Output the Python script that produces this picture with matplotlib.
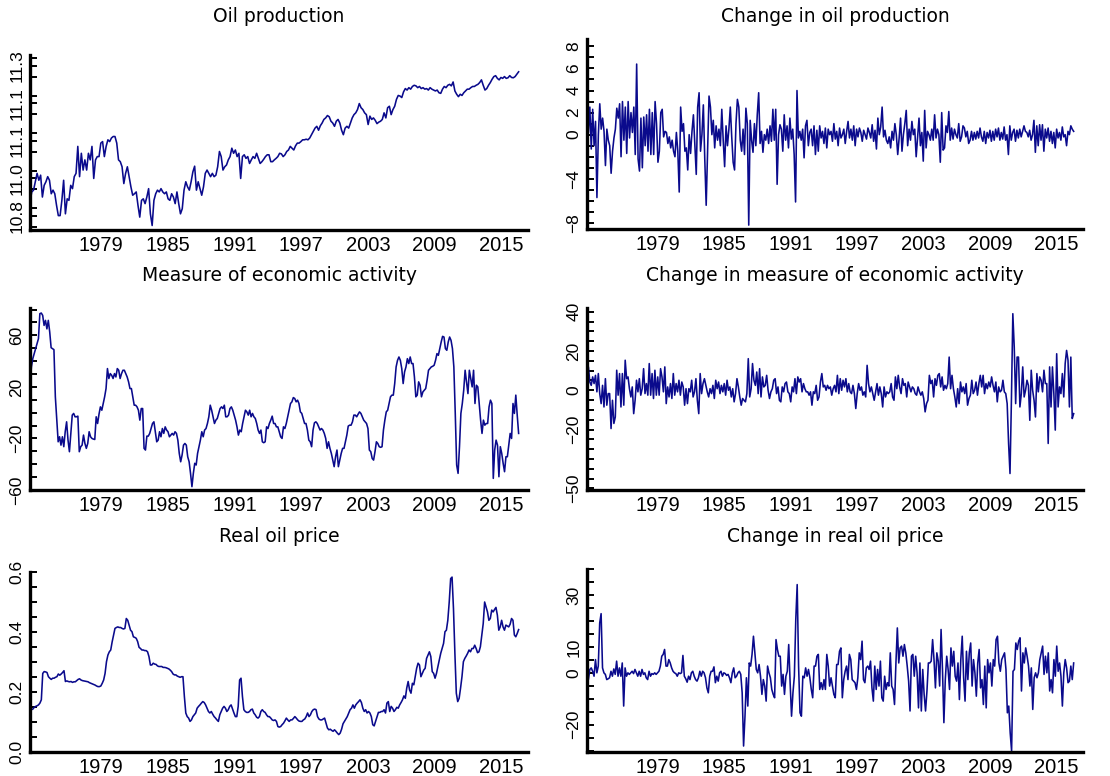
import matplotlib
matplotlib.use('Agg')
import matplotlib.pyplot as plt
import numpy as np

oil_prod = [
    10.845, 10.879, 10.885, 10.913, 10.941, 10.918, 10.935, 10.862, 10.901, 10.913, 10.930, 10.918,
    10.873, 10.885, 10.873, 10.834, 10.800, 10.800, 10.851, 10.918, 10.806, 10.856, 10.851, 10.901,
    10.890, 10.930, 10.941, 11.031, 10.930, 11.008, 10.952, 10.986, 10.952, 11.008, 10.986, 11.031,
    10.924, 10.986, 10.997, 10.997, 11.042, 11.047, 10.997, 11.031, 11.053, 11.047, 11.059, 11.064,
    11.064, 11.042, 10.986, 10.980, 10.963, 10.907, 10.941, 10.963, 10.930, 10.896, 10.868, 10.873,
    10.879, 10.834, 10.795, 10.851, 10.856, 10.840, 10.862, 10.890, 10.806, 10.767, 10.851, 10.873,
    10.885, 10.879, 10.890, 10.879, 10.873, 10.879, 10.856, 10.851, 10.873, 10.862, 10.840, 10.879,
    10.840, 10.806, 10.823, 10.885, 10.913, 10.896, 10.885, 10.913, 10.946, 10.965, 10.885, 10.913,
    10.890, 10.868, 10.896, 10.941, 10.952, 10.941, 10.930, 10.941, 10.930, 10.935, 10.963, 11.014,
    10.997, 10.952, 10.963, 10.969, 10.986, 10.997, 11.025, 11.008, 11.019, 10.997, 11.008, 10.924,
    10.997, 11.003, 10.991, 10.997, 10.974, 10.986, 10.997, 10.991, 11.008, 10.991, 10.974, 10.980,
    10.988, 10.997, 11.003, 11.003, 10.980, 10.980, 10.986, 10.991, 10.997, 11.008, 11.006, 10.997,
    11.003, 11.014, 11.019, 11.031, 11.025, 11.019, 11.033, 11.042, 11.042, 11.047, 11.053, 11.053,
    11.055, 11.053, 11.059, 11.070, 11.081, 11.092, 11.098, 11.085, 11.100, 11.109, 11.121, 11.126,
    11.134, 11.130, 11.115, 11.109, 11.098, 11.115, 11.121, 11.109, 11.085, 11.070, 11.092, 11.098,
    11.092, 11.109, 11.126, 11.137, 11.143, 11.154, 11.174, 11.160, 11.154, 11.143, 11.137, 11.104,
    11.132, 11.121, 11.126, 11.118, 11.107, 11.112, 11.115, 11.121, 11.143, 11.126, 11.160, 11.165,
    11.137, 11.154, 11.165, 11.188, 11.201, 11.199, 11.194, 11.213, 11.224, 11.219, 11.227, 11.222,
    11.231, 11.235, 11.233, 11.227, 11.231, 11.224, 11.227, 11.222, 11.224, 11.219, 11.227, 11.222,
    11.219, 11.216, 11.219, 11.210, 11.208, 11.222, 11.231, 11.227, 11.235, 11.238, 11.233, 11.246,
    11.216, 11.205, 11.197, 11.205, 11.201, 11.210, 11.216, 11.222, 11.222, 11.227, 11.231, 11.231,
    11.235, 11.238, 11.244, 11.253, 11.235, 11.219, 11.224, 11.235, 11.244, 11.255, 11.264, 11.267,
    11.258, 11.253, 11.261, 11.258, 11.264, 11.258, 11.260, 11.267, 11.261, 11.260, 11.264, 11.272,
    11.280]

d_oil_prod = [
    2.8, 0.2, 2.5, -1.3, 2.3, -1.0, 1.2, -5.7, 0.0, 2.8, 0.5, 1.5, 0.3, -2.8, 0.5, -0.5, -1.0, -3.5,
    -1.5, -0.3, 0.5, 2.4, 1.5, 2.8, -2.0, 3.0, -0.5, 2.5, -1.7, 3.0, -0.3, 2.0, 0.2, 2.5, -1.8, 6.4,
    -2.2, -3.3, 1.5, -3.0, 1.6, -1.0, 1.8, -1.5, 2.3, -1.8, 2.0, -1.8, 3.0, 1.0, -2.5, -1.5, 2.0, 2.3,
    -0.2, 0.3, 0.2, -0.8, -0.2, -1.2, -0.5, -1.5, -2.0, 0.2, -1.5, -5.2, 2.5, 0.3, 1.0, -1.5, -1.2, -3.2,
    0.0, -1.7, 0.3, 1.8, -1.0, -3.6, 2.5, 3.8, -1.5, 0.0, 2.7, -2.2, -6.4, -1.5, 3.5, 2.5, 0.0, 1.3,
    -1.2, 0.8, -0.5, 0.5, -1.0, 2.3, -0.5, -2.9, 0.8, -1.0, 0.5, 2.5, -0.2, -2.5, -3.2, 1.0, 3.2, 2.5,
    -0.5, -1.5, 0.5, -1.8, 2.4, 1.0, -8.2, 1.3, -0.5, -1.6, 1.0, -1.0, 1.8, 3.8, -0.8, 0.3, -1.6, 0.0,
    -0.5, 0.5, -0.8, 0.8, -0.6, 2.3, -0.5, 2.3, -4.5, 0.0, 0.9, 0.5, -1.5, 1.8, -0.5, 0.8, -1.2, 1.5,
    -0.4, 0.5, -1.8, -6.1, 4.0, -0.3, 0.3, -0.5, 0.5, -2.1, 0.8, 1.3, -1.0, 0.2, 0.5, -1.0, 0.8, -1.8,
    0.4, -1.5, 0.8, -0.3, 0.3, -0.8, 0.6, -1.2, 0.5, 0.0, 0.3, -0.6, 1.0, -0.4, 0.3, -1.0, 0.6, -0.3,
    0.0, 0.5, -0.8, 0.3, 1.2, -0.3, 0.5, -0.5, 0.8, -1.0, 0.5, -0.2, 0.6, 0.2, -0.6, 0.4, 0.0, -0.4,
    0.6, 0.2, -0.3, 0.9, -0.6, 0.4, -1.3, 1.5, 0.0, 0.7, 2.5, -0.2, 0.4, -0.5, -0.8, -0.2, -1.2, 0.3,
    -0.5, 1.0, 0.0, -1.8, -0.3, 1.5, -1.5, 0.0, 1.0, 2.2, -1.0, 0.5, -0.5, 1.2, 0.0, 0.5, -2.0, -0.3,
    1.5, -1.0, 0.2, -2.4, 2.2, -1.2, 0.3, 0.0, -0.5, 0.5, -0.5, 1.8, -0.3, 0.5, 0.0, -2.5, 2.0, -1.4,
    -1.2, 0.8, 0.2, 2.1, -0.5, 0.6, -0.4, 0.5, 0.0, -0.3, 1.0, -0.6, -0.2, 0.8, 0.6, -0.2, 0.3, -0.8,
    -0.5, 0.3, -0.5, 0.2, -0.4, 0.3, -0.3, 0.6, -0.2, -0.6, 0.3, -0.8, 0.2, -0.3, 0.4, -0.6, 0.3, -0.5,
    0.5, -0.2, 0.6, -0.5, 0.2, -0.4, 0.7, -0.5, 0.0, -1.8, 0.8, -0.5, 0.2, 0.5, -0.6, 0.4, -0.3, 0.5,
    -0.2, 0.3, 0.8, 0.3, 0.2, -0.2, 0.4, -0.5, 0.0, 1.3, -1.6, 0.8, -1.0, 0.9, -0.5, 0.9, -1.5, 0.5,
    -0.3, 0.6, -0.6, 0.3, -0.8, 0.2, -1.2, 0.5, -0.3, 0.2, -0.5, 0.7, -0.2, 0.0, -1.0, 0.3, 0.0, 0.8,
    0.5, 0.3]

econ_act = [
    21.3, 35.5, 42, 45.8, 49.7, 53.5, 57.4, 76.8, 77.3, 75.5, 67.7, 71.6, 65, 71.6, 62.6, 50.4, 49.7,
    48.9, 12.3, -5.8, -22.6, -18.7, -25.2, -18.7, -26.4, -14.8, -7.1, -21.3, -30.3, -16.1, -1.9, -0.6,
    -3.2, -3.2, -2.7, -30.3, -26.4, -25.2, -17.4, -23.9, -27.7, -23.9, -14.8, -18.7, -20, -20.5, -20.8,
    -3.2, -8.4, -1.2, 4.5, 1.9, 7.1, 12.3, 18.7, 34.2, 26.5, 30.3, 29, 26.5, 30.3, 27.7, 34.2, 32.9,
    26.5, 30.3, 32.9, 32.9, 30.3, 27.7, 23.9, 18.7, 18.7, 12.3, 5.8, 5.8, 4.5, 1.9, -5.8, 3.2, 3.2,
    -27.7, -29, -18.2, -18.2, -16.1, -12.3, -8.4, -7.1, -14.8, -22.6, -21.3, -14.8, -18.7, -12.3,
    -16.1, -11, -13.5, -14.8, -18.7, -17.4, -16.1, -17.4, -14.8, -16.1, -21.3, -31.6, -38.1, -32.9,
    -25.2, -23.9, -25.2, -34.2, -38.1, -47.1, -57.4, -47.1, -39.3, -40.6, -31.6, -26.4, -21.3, -14.8,
    -18.7, -13.5, -12.3, -8.4, -3.2, 5.8, 1.9, -3.2, -8.4, -5.8, -4.5, -0.6, 3.2, 4.5, 3.2, 5.8, -3.2,
    -3.2, -1.9, 3.2, 4.5, 1.9, -1.9, -5.8, -11, -17.4, -13.5, -14.8, -8.4, -3.2, 1.9, 0.6, -1.9, 1.9,
    -3.2, -0.6, -3.2, -4.5, -8.4, -13.5, -16.1, -13.5, -22.6, -23.3, -22.6, -11, -12.3, -8.4, -5.8,
    -2.7, -8.4, -8.4, -11, -11, -14.8, -18.7, -20, -11, -12.3, -8.4, -3.2, 1.9, 7.1, 8.4, 11.7, 11,
    8.4, 9.7, 7.1, 0.6, -0.6, -4.5, -8.4, -8.4, -13.5, -21.3, -22.6, -26.4, -13.5, -7.9, -7.1, -8.4,
    -11, -13.5, -12.3, -13.5, -16.1, -20, -27.7, -22.6, -27.7, -31.6, -36.8, -41.9, -34.2, -29, -41.9,
    -36.8, -31.6, -27.7, -27.7, -22.6, -17.4, -10.4, -9.7, -9.7, -7.1, -1.9, -1.9, -3.2, -1.2, 0.6,
    -0.6, -3.2, -5.8, -7.1, -8.4, -12.3, -29, -30.3, -35.5, -36.8, -30.3, -22.6, -23.9, -26.4, -26.9,
    -26.4, -13.5, -5.8, 0.6, 1.9, 7.1, 12.3, 13.6, 13.6, 22.6, 35.5, 40.6, 43.2, 40.6, 34.2, 22.6,
    31.6, 35.5, 41.9, 38.1, 43.2, 38.1, 38.1, 27.7, 12.3, 13.6, 23.9, 21.3, 12.3, 16.1, 17.4, 18.7,
    25.2, 32.9, 34.2, 35.5, 36, 36.8, 40.6, 45.8, 44.5, 49.7, 54.8, 59.2, 58.7, 49.7, 48.4, 54.8,
    58.7, 56.1, 49.7, 35.5, -0.6, -40.6, -47.1, -26.4, -0.6, 7.1, 17.4, 32.9, 23.9, 14.8, 32.9, 26.5,
    20, 32.9, 7.1, 21.3, 20, 7.1, -5.8, -16.1, -5.8, -9.7, -8.4, -8.4, 4.5, 9.7, 7.1, -51, -29, -21.3,
    -25.2, -49.7, -26.4, -31.6, -39.3, -45.8, -34.2, -34.2, -25.2, -16.1, -20, 7.1, -0.6, 13.6, -1.9,
    -16.1]

d_econ_act = [
    5.9, 11.9, 4.2, 2.5, 6.8, 3.4, 7.6, -0.8, 8.5, -1.7, -6.8, 2.5, -8.5, 5.9, -7.6, -1.7, -1.7, -19.5,
    -5.1, -16.9, -13.6, 10.2, -2.5, 8.5, -8.5, 8.5, -7.6, 15.3, 5.9, 6.8, 0.8, -3.4, 1.7, -11.9, -5.1,
    5.1, -0.8, 5.9, -2.5, 0.8, 11, -1.7, 3.4, -2.5, 13.6, -2.5, 8.5, -4.2, 10.2, -2.5, 6.8, -2.5, 11,
    6.8, -0.8, 11.9, -6.8, 1.7, -3.4, 3.4, -4.2, 8.5, -2.5, 3.4, -0.8, 5.1, -2.5, 4.2, 1.7, -7.6, 0.8,
    -6.8, 0.8, -0.8, 5.1, -3.4, -0.8, 5.9, -5.1, -11.9, 8.5, -1.7, 3.4, 5.9, 2.5, -0.8, -3.4, 0.8,
    -1.7, 2.5, -4.2, 5.1, 0.8, 4.2, -1.7, 2.5, -0.8, 3.4, -2.5, 5.1, 0, 1.7, -3.4, 0.8, -5.9, -1.7,
    5.9, 1.7, -3.4, -7.6, -4.2, -5.1, -5.9, -1.7, 16.1, -3.4, 0.8, 13.6, 5.1, 2.5, 9.3, -1.7, 11, -3.4,
    6.8, 1.7, 2.5, 7.6, 0, -4.2, -0.8, 0.8, 5.1, 5.9, -1.7, 1.7, -5.1, -5.9, 1.7, -0.8, 3.4, 4.2, -0.8,
    -1.7, -5.9, 1.7, -0.8, 5.9, -1.7, 6.8, 4.2, 5.9, -0.8, 3.4, 0.8, -0.8, -0.8, -2.5, -0.8, -7.6,
    -0.8, -1.7, 2.5, -5.1, -3.4, 4.2, 8.5, 1.7, 2.5, 0, 2.5, 0.8, 1.7, -2.5, 0.8, 2.5, -0.8, 7.6, -1.7,
    5.9, 0, 5.1, 1.7, 5.9, -0.8, 3.4, -0.8, -1.7, 2.5, -1.7, -9.3, -1.7, 3.4, 0, 1.7, -2.5, -0.8, -3.4,
    12.7, 3.4, -0.8, 1.7, -1.7, -5.1, -0.8, 3.4, -2.5, 1.7, -1.7, -8.5, 1.7, -3.4, -0.8, -1.7, -0.8,
    3.4, -3.4, -5.1, 6.8, 0.8, 7.6, 1.7, -1.7, 5.9, 2.5, 3.4, -3.4, 4.2, 1.7, -0.8, 1.7, 0.8, -1.7,
    -2.5, 1.7, -0.8, -2.5, -0.8, -4.2, -11, -6.8, -5.1, 7.6, 3.4, 5.1, -3.4, 5.9, 2.5, 7.6, 8.5, 1.7,
    6.8, 0, 2.5, 0.8, 3.4, 16.9, 0.8, 7.6, 0.8, -3.4, -8.5, 0.8, -6.8, 4.2, -0.8, 1.7, -1.7, 3.4,
    -7.6, -4.2, -2.5, 5.1, -1.7, 0, 4.2, -2.5, 3.4, 7.6, 1.7, 7.6, -1.7, 3.4, 0.8, 4.2, 1.7, 6.8, 2.5,
    -0.8, 4.2, -5.9, 1.7, -0.8, 0, 5.1, -0.8, -1.7, -6.8, -27.1, -42.4, -5.1, 39, 22, -6.8, 16.9,
    16.9, -8.5, -1.7, 11.9, -3.4, 0, 5.1, 2.5, -15.3, 10.2, 0, -5.1, -13.6, 8.5, -0.8, 6.8, 5.1, -0.8,
    10.2, 3.4, 3.4, -27.1, 11.9, -8.5, 11.9, -1.7, -20.3, 18.6, -8.5, 1.7, -1.7, 8.5, -3.4, 13.6,
    20.3, 15.3, -8.5, 16.9, -14.4, -11.9]

oil_price = [
    0.143, 0.141, 0.143, 0.149, 0.152, 0.154, 0.157, 0.163, 0.174, 0.262, 0.268, 0.267, 0.265, 0.251,
    0.246, 0.242, 0.246, 0.246, 0.249, 0.251, 0.260, 0.256, 0.260, 0.265, 0.271, 0.235, 0.237, 0.235,
    0.234, 0.235, 0.232, 0.234, 0.234, 0.238, 0.242, 0.244, 0.240, 0.238, 0.237, 0.236, 0.235, 0.234,
    0.231, 0.229, 0.227, 0.225, 0.223, 0.220, 0.218, 0.218, 0.220, 0.229, 0.240, 0.262, 0.301, 0.323,
    0.334, 0.340, 0.367, 0.390, 0.412, 0.415, 0.417, 0.415, 0.415, 0.412, 0.410, 0.412, 0.445, 0.439,
    0.423, 0.406, 0.401, 0.384, 0.382, 0.379, 0.368, 0.349, 0.345, 0.340, 0.340, 0.338, 0.338, 0.334,
    0.318, 0.290, 0.290, 0.296, 0.293, 0.292, 0.287, 0.285, 0.285, 0.285, 0.282, 0.282, 0.281, 0.279,
    0.277, 0.273, 0.268, 0.260, 0.257, 0.257, 0.253, 0.251, 0.249, 0.251, 0.251, 0.185, 0.130, 0.118,
    0.113, 0.102, 0.107, 0.118, 0.124, 0.130, 0.146, 0.152, 0.157, 0.163, 0.168, 0.165, 0.157, 0.146,
    0.135, 0.130, 0.135, 0.126, 0.118, 0.113, 0.107, 0.102, 0.124, 0.135, 0.146, 0.152, 0.146, 0.135,
    0.141, 0.152, 0.157, 0.143, 0.130, 0.118, 0.118, 0.152, 0.240, 0.246, 0.185, 0.141, 0.135, 0.132,
    0.132, 0.135, 0.141, 0.143, 0.130, 0.124, 0.116, 0.113, 0.118, 0.135, 0.141, 0.135, 0.132, 0.124,
    0.118, 0.118, 0.113, 0.107, 0.105, 0.107, 0.102, 0.085, 0.083, 0.085, 0.091, 0.096, 0.104, 0.113,
    0.107, 0.102, 0.107, 0.107, 0.112, 0.118, 0.113, 0.107, 0.103, 0.102, 0.102, 0.107, 0.110, 0.118,
    0.130, 0.118, 0.124, 0.135, 0.141, 0.143, 0.141, 0.118, 0.110, 0.107, 0.107, 0.110, 0.113, 0.096,
    0.080, 0.074, 0.076, 0.072, 0.069, 0.074, 0.069, 0.063, 0.058, 0.063, 0.076, 0.094, 0.102, 0.110,
    0.118, 0.130, 0.141, 0.146, 0.157, 0.146, 0.157, 0.163, 0.168, 0.174, 0.165, 0.146, 0.135, 0.141,
    0.130, 0.135, 0.130, 0.118, 0.091, 0.087, 0.102, 0.118, 0.132, 0.132, 0.135, 0.135, 0.141, 0.130,
    0.163, 0.168, 0.135, 0.152, 0.146, 0.135, 0.141, 0.149, 0.146, 0.157, 0.165, 0.174, 0.187, 0.179,
    0.213, 0.235, 0.207, 0.196, 0.229, 0.224, 0.251, 0.279, 0.296, 0.290, 0.251, 0.262, 0.273, 0.279,
    0.312, 0.323, 0.334, 0.318, 0.268, 0.262, 0.246, 0.262, 0.285, 0.307, 0.329, 0.345, 0.362, 0.401,
    0.406, 0.439, 0.500, 0.578, 0.583, 0.478, 0.329, 0.196, 0.168, 0.179, 0.213, 0.251, 0.301, 0.312,
    0.320, 0.329, 0.340, 0.334, 0.345, 0.345, 0.356, 0.345, 0.331, 0.334, 0.351, 0.390, 0.428, 0.500,
    0.484, 0.467, 0.439, 0.445, 0.473, 0.467, 0.475, 0.482, 0.456, 0.406, 0.417, 0.439, 0.417, 0.406,
    0.423, 0.420, 0.417, 0.426, 0.445, 0.439, 0.390, 0.384, 0.395, 0.408]

d_oil_price = [
    -1.3, -2.6, 1.3, 1.9, 0.6, -1.3, 5.1, 0, 2.6, 19.2, 22.8, 1.9, 0, -0.6, -2.6, -2.3, -1.9, 0.6,
    -1.3, 1.5, -0.6, 4.5, -1.3, 1.9, -1.3, 3.8, -12.8, 1.9, -1.3, 0, -0.6, 0, 0.6, -0.3, 1.3, 0, -1.3,
    0.6, -1.3, 1.3, -0.6, 0, -1.9, -2.6, 0.6, -1.3, -0.3, -0.6, 0, -0.6, 0, 0.6, 2.6, 6.4, 7.1, 9, 2.6,
    2.6, 5.1, 3.8, 1.9, 0.6, 0, -0.3, -1.3, 0, -0.3, 0, 6.7, -1.3, -2.3, -3.6, -1.3, -2.6, 0, 0.6,
    -1.3, -2.6, -3.2, -1.9, 0.6, -1.3, 0.6, 0, -1.9, -5.8, -7.7, -1.3, 0.6, 0.6, 2.3, -3.8, -1.3,
    -3.2, 0, 0.6, -1.3, 0, -0.3, -1, -0.6, -1.9, -3.8, 0, 1.9, -1.9, -1.3, 0, 0.6, -0.6, -7.7, -28.2,
    -16.7, -1.9, -12.8, 3.8, 2.6, 7.1, 14.1, 7.7, 1.3, 0, 3.2, -1.3, -8.3, -2.6, -5.1, -10.9, 2.6, 0,
    -1.9, -6.4, -8.3, -9.6, 12.8, 9, 6.4, 6.4, -5.1, -0.6, -8.3, -1.3, 0.6, 10.9, -3.8, -16.7, -7.7,
    -1.3, 20.5, 34, 2.6, -15.4, -16.7, -1.3, -1.9, 1.9, -1.3, 1.3, -1.9, -6.4, -9.6, 2.6, 2.6, 6.4,
    7.1, -6.4, -3.8, -6.4, -2.6, -6.4, 7.1, 2.6, -5.1, -1.9, -5.1, -8.3, -9.6, 3.2, 3.2, 8.3, 9.6,
    -9.6, -2.6, 0.6, 2.6, -2.6, 7.1, 5.1, -2.6, -3.2, -3.8, -6.4, -1.9, 7.7, 5.1, 12.2, -2.6, -3.8,
    1.9, 2.6, 1.3, 4.5, -5.8, -10.9, 2.6, -6.4, 1.3, -5.1, 4.5, -9.6, -10.9, -1.3, -6.4, -3.8, -5.1,
    7.7, -5.1, -6.4, -12.2, 3.8, 17.3, 3.8, 9.6, 10.3, 6.4, 10.9, 7.7, 2.6, -3.2, -14.7, 6.4, 7.1,
    -1.3, 6.4, 0, -13.5, 3.8, -14.7, 1.3, -8.3, -14.7, -7, 3.8, 3.8, 4.5, 12.8, 5.1, -5.8, 7.7, 4.5,
    -5.1, 16.7, 1.3, -19.2, -2.6, 6.4, 1.3, -6.4, 9.6, 2.6, 8.3, -1.3, -3.2, 3.8, -10.3, 5.1, 14.1,
    -1.9, -10.9, 8.3, -2.6, 7.7, 11.5, -5.1, 5.1, 0, -9, 3.8, 9, -5.8, -2.6, -12.2, 2.6, -13.5, 5.1,
    0, 3.8, -5.1, 5.1, 2.6, 12.8, 14.1, 3.8, 0.6, 5.1, 6.4, 7.7, 1.3, -15.4, -12.8, -23.1, -30.1, 0.6,
    1.3, 11.5, 9, 12.2, 13.5, -7, 7.7, 3.8, 9.6, 6.4, 2.6, -5.1, 1.9, -14.1, -1.9, 0, -1.9, 0, 5.1,
    7.7, 10.3, -0.6, 6.4, 0, 7.7, -7, -2.6, -7.7, 5.1, -1.3, 10.3, 0.6, 3.8, -1.3, -12.8, 0, 5.1, 1.9,
    -3.8, -3.2, 2.6, -2.6, 3.8]

year_labels = ['1979', '1985', '1991', '1997', '2003', '2009', '2015']
first_obs, last_obs = 1973.0, 2014.7

M = '\u2212'
line_color = '#0A0A8C'

plt.rcParams['font.family'] = ['Liberation Sans', 'DejaVu Sans']

W, H = 1110, 776
fig = plt.figure(figsize=(W / 100, H / 100), dpi=100)


def title_row(top):
    if top < 100:
        return 16
    if top < 400:
        return 275
    return 537


def panel(box, values, title, ylim, yticks, ylabels, minor):
    # box = pixel (left, top, right, bottom)
    x0, y0, x1, y1 = box
    ax = fig.add_axes([x0 / W, 1 - y1 / H, (x1 - x0) / W, (y1 - y0) / H])
    t = np.linspace(first_obs, last_obs, len(values))
    ax.plot(t, values, color=line_color, lw=1.15)
    ax.set_xlim(1973.0, 2015.5)
    ax.set_ylim(*ylim)
    for s in ['top', 'right']:
        ax.spines[s].set_visible(False)
    for s in ['left', 'bottom']:
        ax.spines[s].set_linewidth(2.4)
    ax.set_xticks(np.linspace(1979.06, 2013.24, 7))
    ax.set_xticklabels(year_labels, fontsize=14.5)
    ax.tick_params(axis='x', length=0, pad=4)
    ax.set_yticks(yticks)
    ax.set_yticklabels(ylabels, fontsize=12.5, rotation=90, va='center')
    ax.set_yticks(minor, minor=True)
    ax.tick_params(axis='y', which='both', direction='in', length=5, width=1.4, pad=4)
    fig.text((x0 + x1) / 2 / W, 1 - title_row(y0) / H, title, ha='center', va='center',
             fontsize=13.5, family='DejaVu Sans')
    return ax


panel((30, 55, 528, 230), oil_prod, 'Oil production', (10.752, 11.336),
      [10.8, 10.925, 11.05, 11.175, 11.3], ['10.8', '11.0', '11.1', '11.1', '11.3'],
      np.arange(10.7625, 11.33, 0.0625))
panel((587, 39, 1083, 229), d_oil_prod, 'Change in oil production', (-8.55, 8.67),
      [-8, -4, 0, 2, 4, 6, 8], [M + '8', M + '4', '0', '2', '4', '6', '8'],
      np.arange(-8, 9, 1))
panel((30, 308, 528, 490), econ_act, 'Measure of economic activity', (-60, 81.2),
      [-60, -20, 20, 60], [M + '60', M + '20', '20', '60'],
      np.arange(-60, 81, 10))
panel((587, 308, 1083, 490), d_econ_act, 'Change in measure of economic activity', (-50.8, 41.9),
      [-50, -20, 0, 20, 40], [M + '50', M + '20', '0', '20', '40'],
      np.arange(-50, 41, 5))
panel((30, 572, 528, 752), oil_price, 'Real oil price', (0, 0.6),
      [0, 0.2, 0.4, 0.6], ['0.0', '0.2', '0.4', '0.6'],
      np.arange(0, 0.61, 0.05))
panel((587, 569, 1083, 752), d_oil_price, 'Change in real oil price', (-30.5, 40),
      [-20, 0, 10, 30], [M + '20', '0', '10', '30'],
      np.arange(-30, 41, 5))

fig.savefig('out.png', dpi=100)
